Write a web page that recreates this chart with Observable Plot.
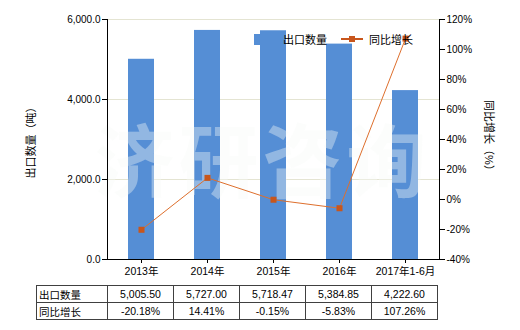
<!DOCTYPE html>
<html><head><meta charset="utf-8">
<script src="https://cdn.jsdelivr.net/npm/d3@7"></script>
<script src="https://cdn.jsdelivr.net/npm/@observablehq/plot@0.6"></script>
<style>
body{margin:0;background:#fff;font-family:"Liberation Sans",Arial,"Noto Sans CJK SC",sans-serif;}
#wrap{position:relative;width:520px;height:330px;overflow:hidden;}
#chart{position:absolute;left:0;top:0;}
.ov{position:absolute;white-space:nowrap;font-size:11px;color:#000;}
#ytitleL{left:30px;top:140px;transform:translate(-50%,-50%) rotate(-90deg);}
#ytitleR{left:490px;top:138px;transform:translate(-50%,-50%) rotate(90deg);}
#legend{left:254px;top:31px;display:flex;align-items:center;font-size:11px;}
#legend .sw{width:12px;height:11px;background:#558ed5;margin-right:17px;}
#legend .ln{position:relative;width:22px;height:2px;background:#c8561c;margin:0 6px 0 14px;}
#legend .ln i{position:absolute;left:8px;top:-2px;width:6px;height:6px;background:#c8561c;}
table{position:absolute;left:36px;top:285px;border-collapse:collapse;font-size:10.5px;}
td{border:1px solid #404040;height:16px;padding:0;text-align:center;width:65px;}
td.h{text-align:left;padding-left:2px;width:68px;}
</style></head><body><div id="wrap"><div id="chart"></div></div>
<script>
const categories = ["2013年","2014年","2015年","2016年","2017年1-6月"];
const exportQty = [5005.50, 5727.00, 5718.47, 5384.85, 4222.60];
const growth = [-20.18, 14.41, -0.15, -5.83, 107.26];
const leftTicks = [0, 2000, 4000, 6000];
const rightTicks = [-40, -20, 0, 20, 40, 60, 80, 100, 120];
const seriesNames = ["出口数量", "同比增长"];
const leftTitle = "出口数量（吨）";
const rightTitle = "同比增长（%）";
const watermark = "济研咨询";

const toLeft = g => (g + 40) / 160 * 6000;
const fromLeft = v => Math.round(v / 6000 * 160 - 40);
const rows = categories.map((c, i) => ({cat: c, qty: exportQty[i], g: growth[i], gy: toLeft(growth[i])}));

const chart = Plot.plot({
  width: 520, height: 285,
  marginTop: 19, marginLeft: 107, marginRight: 81, marginBottom: 26,
  style: {fontFamily: '"Liberation Sans", Arial, "Noto Sans CJK SC", sans-serif', fontSize: "10px", color: "#000", background: "transparent"},
  x: {domain: categories, paddingInner: 0.6, paddingOuter: 0.3, label: null},
  y: {domain: [0, 6000], label: null},
  marks: [
    Plot.gridY(leftTicks.slice(1), {stroke: "#e4e4d2", strokeOpacity: 1}),
    Plot.barY(rows, {x: "cat", y: "qty", fill: "#558ed5"}),
    Plot.text([watermark], {className: "wm", frameAnchor: "middle", text: d => d, dx: -11, dy: 26, fontSize: 80, fontWeight: "bold", fill: "#f6faf6", fillOpacity: 0.38, fontFamily: '"Noto Sans CJK SC", sans-serif'}),
    Plot.frame({anchor: "left", stroke: "#000"}),
    Plot.frame({anchor: "right", stroke: "#000"}),
    Plot.ruleY([0], {stroke: "#000"}),
    Plot.axisY({ticks: leftTicks, tickFormat: d3.format(",.1f"), tickSize: 5, tickPadding: 2, label: null}),
    Plot.axisY({anchor: "right", ticks: rightTicks.map(toLeft), tickFormat: v => fromLeft(v) + "%", tickSize: 5, tickPadding: 2, label: null}),
    Plot.axisX({tickSize: 4, tickPadding: 4, label: null, fontSize: 10.5}),
    Plot.line(rows, {x: "cat", y: "gy", stroke: "#de6f2d", strokeWidth: 1}),
    Plot.dot(rows, {x: "cat", y: "gy", symbol: "square", fill: "#c8561c", r: 3.4})
  ]
});
d3.select(chart).selectAll(".wm text").attr("letter-spacing", 4);
const wrap = document.getElementById("wrap");
document.getElementById("chart").appendChild(chart);

function ov(id, html) { const d = document.createElement("div"); d.className = "ov"; d.id = id; d.innerHTML = html; wrap.appendChild(d); return d; }
ov("ytitleL", leftTitle);
ov("ytitleR", rightTitle);
ov("legend", `<span class="sw"></span><span>${seriesNames[0]}</span><span class="ln"><i></i></span><span>${seriesNames[1]}</span>`);

const fmtQ = d3.format(",.2f");
const table = document.createElement("table");
table.innerHTML =
  `<tr><td class="h">${seriesNames[0]}</td>${exportQty.map(v => `<td>${fmtQ(v)}</td>`).join("")}</tr>` +
  `<tr><td class="h">${seriesNames[1]}</td>${growth.map(v => `<td>${v.toFixed(2)}%</td>`).join("")}</tr>`;
wrap.appendChild(table);
</script></body></html>
